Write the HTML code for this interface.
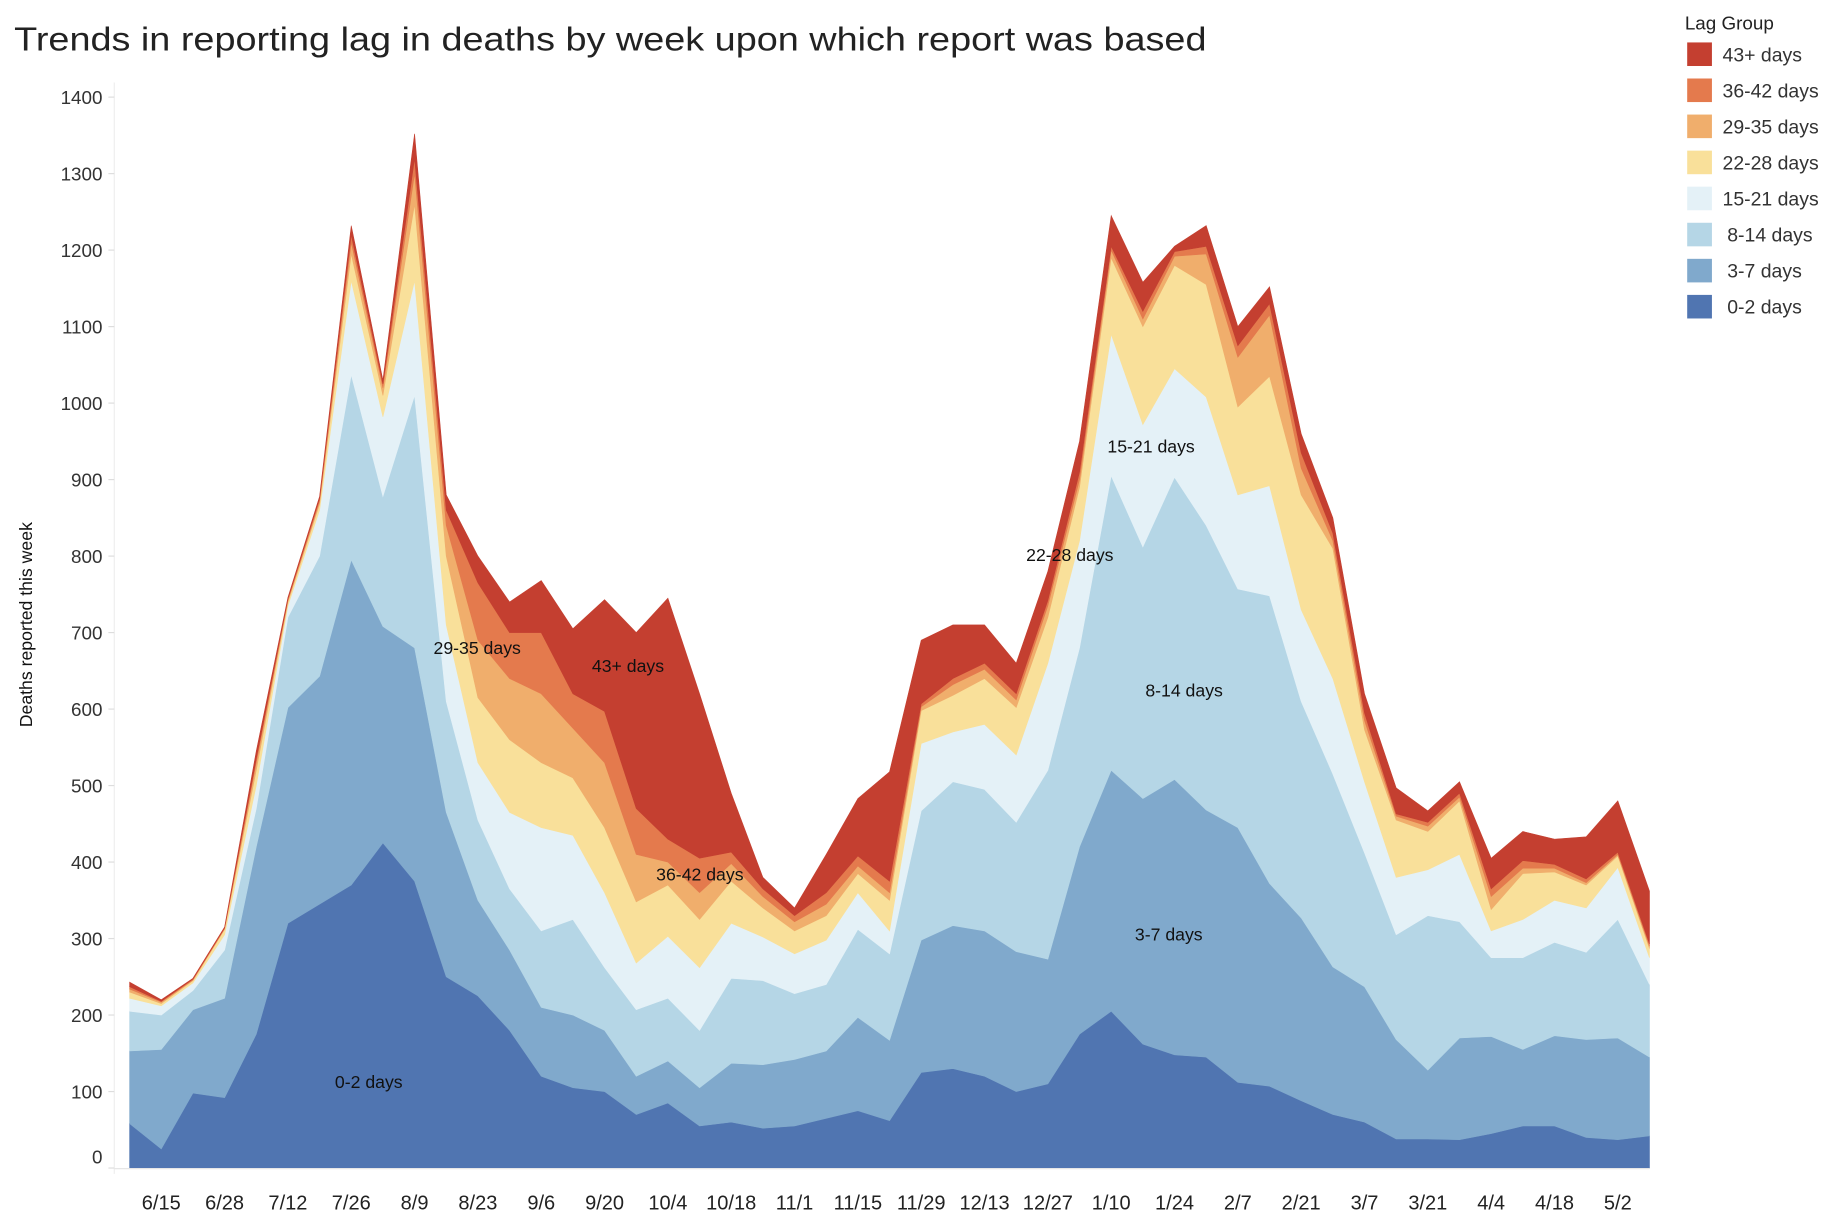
<!DOCTYPE html>
<html><head><meta charset="utf-8"><style>
html,body{margin:0;padding:0;background:#fff;}
svg{display:block;font-family:"Liberation Sans",sans-serif;}
</style></head><body>
<svg id="chart" width="1838" height="1214" viewBox="0 0 1560 1030" preserveAspectRatio="none" xmlns="http://www.w3.org/2000/svg">
<text x="12" y="43" font-size="28" fill="#222" textLength="1012" lengthAdjust="spacingAndGlyphs">Trends in reporting lag in deaths by week upon which report was based</text>
<text transform="translate(27,530) rotate(-90)" text-anchor="middle" font-size="15" fill="#111">Deaths reported this week</text>
<g id="grid"></g>
<g id="areas"></g>
<g id="xaxis"></g>
<g id="labels"></g>
<g id="legend">
<text x="1430" y="25" font-size="16" fill="#222">Lag Group</text>
</g>
</svg>
<script>
const layerNames = ["0-2 days","3-7 days","8-14 days","15-21 days","22-28 days","29-35 days","36-42 days","43+ days"];
const lag0_2 = [58,25,98,92,175,320,345,370,425,375,250,225,180,120,105,100,70,85,55,60,52,55,65,75,62,125,130,120,100,110,175,205,162,148,145,112,107,88,70,60,38,38,37,45,55,55,40,37,42];
const lag3_7 = [95,130,109,130,245,282,298,425,283,305,215,125,105,90,95,80,50,55,50,77,83,87,88,122,105,173,187,190,183,163,245,315,321,360,323,333,265,239,193,177,130,90,133,127,100,118,128,133,103];
const lag8_14 = [52,45,25,63,50,118,157,242,170,330,145,105,80,100,125,82,87,82,75,111,110,86,87,115,113,169,188,185,169,247,260,385,329,395,372,312,376,283,252,175,137,202,152,103,120,122,114,155,95];
const lag15_21 = [17,12,10,20,30,15,60,123,104,150,100,75,100,135,110,98,61,81,82,72,57,52,58,48,30,88,65,85,88,140,140,185,160,142,168,123,144,120,125,93,75,60,88,35,50,55,58,68,35];
const lag22_28 = [8,3,3,7,20,5,8,35,28,100,90,85,95,85,75,85,80,67,63,55,38,30,32,25,40,43,48,60,62,60,70,100,128,135,147,115,143,150,170,68,75,50,70,28,60,37,30,15,12];
const lag29_35 = [4,2,1,1,10,2,4,15,10,40,40,75,80,90,65,85,62,30,35,23,15,12,15,10,10,5,14,12,10,15,10,10,10,12,40,65,80,35,10,12,5,7,5,17,7,5,3,2,3];
const lag36_42 = [3,1,1,1,5,2,3,10,5,20,20,75,60,80,45,67,60,30,45,15,10,8,15,13,15,4,8,8,8,7,10,5,10,6,10,15,15,20,10,10,3,5,5,10,10,5,5,3,3];
const lag43plus = [6,2,1,1,10,2,3,12,5,32,20,35,40,68,85,146,230,315,215,77,15,10,50,75,143,83,70,50,40,38,40,40,38,7,27,25,22,25,20,25,34,15,15,40,38,33,55,67,69];
const series = [lag0_2,lag3_7,lag8_14,lag15_21,lag22_28,lag29_35,lag36_42,lag43plus];
const yTicks = [0,100,200,300,400,500,600,700,800,900,1000,1100,1200,1300,1400];
const xTickLabels = ["6/15","6/28","7/12","7/26","8/9","8/23","9/6","9/20","10/4","10/18","11/1","11/15","11/29","12/13","12/27","1/10","1/24","2/7","2/21","3/7","3/21","4/4","4/18","5/2"];
const xTickIndex = [1,3,5,7,9,11,13,15,17,19,21,23,25,27,29,31,33,35,37,39,41,43,45,47];

const colors = ["#5075b1","#80a9cc","#b5d6e6","#e4f1f7","#f9e09a","#f0ae6c","#e47a4d","#c43f30"];
const NS="http://www.w3.org/2000/svg";
const x0=110, x1=1400, yBase=991, yScale=0.649;
const n = lag0_2.length;
const X = i => x0 + i*(x1-x0)/(n-1);
const Y = v => yBase - v*yScale;
function mk(tag, attrs, parent){const e=document.createElementNS(NS,tag);for(const k in attrs)e.setAttribute(k,attrs[k]);parent.appendChild(e);return e;}

const grid=document.getElementById('grid');
mk('line',{x1:97,y1:70,x2:97,y2:yBase+5,stroke:"#eee","stroke-width":1},grid);
yTicks.forEach(t=>{
  const tk=mk('line',{x1:92,y1:Y(t),x2:97,y2:Y(t),stroke:"#ddd"},grid);
  
  
  const tx=mk('text',{x:87,y:(t===0?Y(t)-4:Y(t)+6),"text-anchor":"end","font-size":"16",fill:"#333"},grid);
  
  
  tx.textContent=t;
});

const areas=document.getElementById('areas');
const cum = new Array(n).fill(0);
series.forEach((s,k)=>{
  const lower=cum.slice();
  for(let i=0;i<n;i++) cum[i]+=s[i];
  let d="M"+X(0)+","+Y(cum[0]);
  for(let i=1;i<n;i++) d+="L"+X(i)+","+Y(cum[i]);
  for(let i=n-1;i>=0;i--) d+="L"+X(i)+","+Y(lower[i]);
  d+="Z";
  const p=mk('path',{d:d,fill:colors[k],stroke:colors[k],"stroke-width":0.5},areas);
  
  
});
mk('line',{x1:97,y1:yBase+0.5,x2:x1,y2:yBase+0.5,stroke:"#e6e6e6"},areas);

const xa=document.getElementById('xaxis');
xTickLabels.forEach((lab,j)=>{
  const t=mk('text',{x:X(xTickIndex[j]),y:1026,"text-anchor":"middle","font-size":"17",fill:"#222"},xa);
  
  
  t.textContent=lab;
});

const labs=[["0-2 days",313,923],["3-7 days",992,798],["8-14 days",1005,591],["15-21 days",977,384],["22-28 days",908,476],["29-35 days",405,555],["36-42 days",594,747],["43+ days",533,570]];
const lg=document.getElementById('labels');
labs.forEach(l=>{
  const t=mk('text',{x:l[1],y:l[2],"text-anchor":"middle","font-size":"15",fill:"#111"},lg);
  
  
  t.textContent=l[0];
});

const leg=document.getElementById('legend');
for(let k=7;k>=0;k--){
  const r=7-k, cy=46+r*30.6;
  const g=mk('g',{},leg);
  
  
  mk('rect',{x:1432,y:cy-10,width:21,height:20,fill:colors[k]},g);
  const t=mk('text',{x:k<=2?1466:1462,y:cy+6,"font-size":"16.5",fill:"#333"},g);
  t.textContent=layerNames[k];
}
</script>
</body></html>
